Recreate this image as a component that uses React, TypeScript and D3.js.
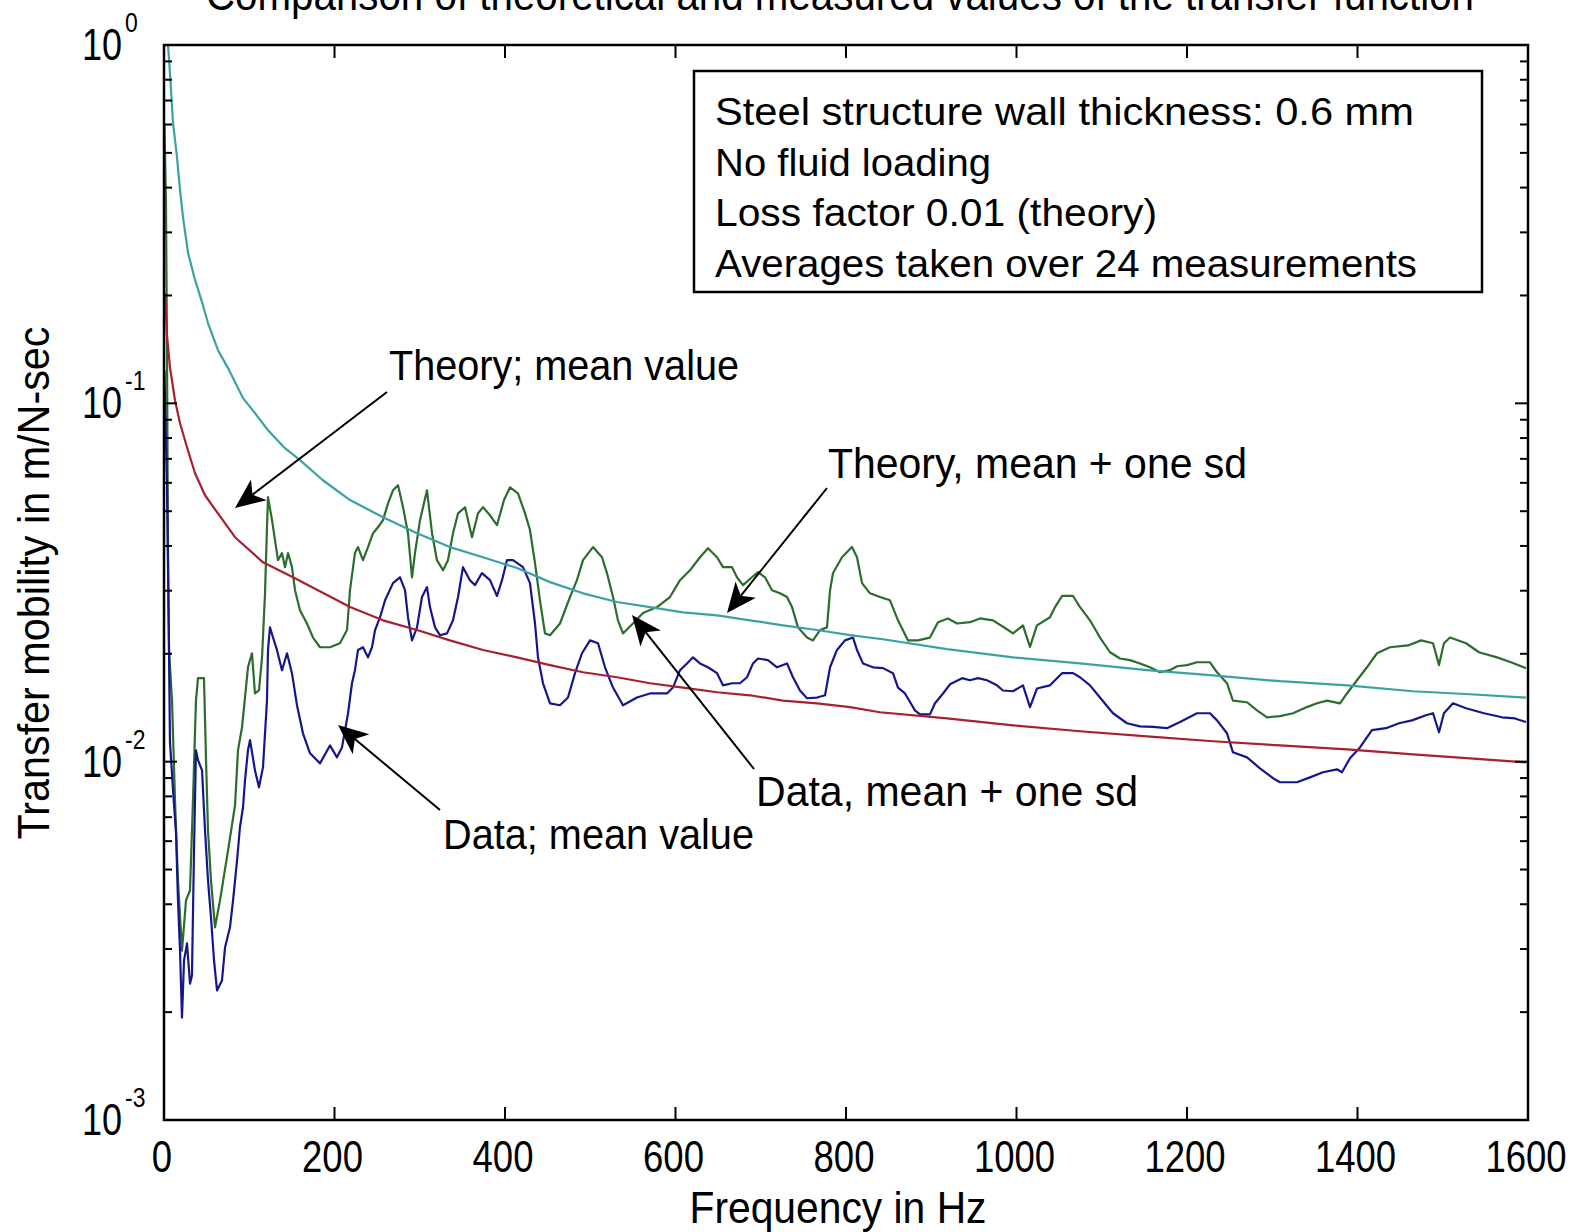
import React from 'react';
import * as d3 from 'd3';

type Pt = [number, number];

const W = 1577;
const H = 1232;
const PLOT = { left: 164, right: 1528, top: 45, bottom: 1120 };

const xDomain: [number, number] = [0, 1600];
const yDomain: [number, number] = [1e-3, 1];
const xTicks = [0, 200, 400, 600, 800, 1000, 1200, 1400, 1600];
const yDecades = [-3, -2, -1, 0];

const titleText = 'Comparison of theoretical and measured values of the transfer function';
const xLabelText = 'Frequency in Hz';
const yLabelText = 'Transfer mobility in m/N-sec';
const infoLines = [
  'Steel structure wall thickness: 0.6 mm',
  'No fluid loading',
  'Loss factor 0.01 (theory)',
  'Averages taken over 24 measurements',
];
const calloutTexts = ['Theory; mean value', 'Theory, mean + one sd', 'Data, mean + one sd', 'Data; mean value'];

// Data: mean + one standard deviation (green)
const dataMeanPlusSd: Pt[] = [
  [0.5,0.598],[2.3,0.369],[3.5,0.141],[4.7,0.0389],[5.9,0.0205],[9.4,0.0148],[12.9,0.0078],[16.4,0.00467],[21.1,0.00297],[25.8,0.0041],[30.5,0.00437],[34,0.0078],[37.5,0.0148],[39.9,0.0171],[46.9,0.0171],[49.3,0.0101],[51.6,0.00643],[55.1,0.00467],[59.8,0.00345],[65.7,0.0041],[75.1,0.00565],[83.3,0.00755],[86.8,0.01076],[91.5,0.01247],[95,0.0151],[98.5,0.01834],[103.2,0.02007],[106.7,0.0155],[111.4,0.0158],[115,0.01955],[118.5,0.0295],[120.8,0.0451],[122,0.0547],[126.7,0.0472],[130.2,0.0415],[133.7,0.0365],[138.4,0.0382],[141.9,0.0349],[145.5,0.0382],[150.1,0.0349],[153.7,0.0301],[159.5,0.02645],[167.7,0.0243],[174.8,0.0222],[183,0.02086],[194.7,0.02086],[206.4,0.0214],[214.7,0.0233],[218.2,0.0301],[224,0.0382],[227.6,0.0397],[233.4,0.0365],[239.3,0.0397],[245.2,0.0434],[251,0.0451],[256.9,0.0472],[262.8,0.0526],[268.6,0.0572],[274.5,0.0591],[280.4,0.0513],[286.2,0.0434],[290.9,0.0327],[294.4,0.0382],[300.3,0.0472],[308.5,0.0572],[314.4,0.0434],[320.2,0.0365],[327.3,0.0342],[333.1,0.0365],[339,0.0434],[344.9,0.0493],[353.1,0.0513],[361.3,0.0423],[368.3,0.0493],[374.2,0.0513],[382.4,0.0487],[390.6,0.0457],[398.8,0.0537],[405.9,0.0583],[415.2,0.0561],[423.5,0.0493],[429.3,0.0443],[435.2,0.0358],[441,0.0282],[446.9,0.0228],[452.8,0.02254],[464.5,0.0243],[476.2,0.0288],[484.4,0.0321],[491.5,0.0365],[503.2,0.0397],[513.8,0.0372],[519.6,0.0336],[526.7,0.0288],[532.5,0.0248],[538.4,0.0228],[550.1,0.0243],[561.9,0.026],[578.3,0.027],[593.5,0.0288],[605.3,0.0321],[617,0.0342],[628.7,0.0372],[638.1,0.0394],[648.7,0.0372],[655.7,0.0349],[666.3,0.0349],[672.1,0.0327],[679.2,0.0311],[689.7,0.0327],[696.8,0.0338],[705,0.0327],[713.2,0.0301],[722.6,0.0295],[730.8,0.0288],[736.7,0.027],[743.7,0.0237],[754.3,0.0222],[761.3,0.0218],[769.5,0.0233],[777.7,0.0237],[781.3,0.0301],[784.8,0.0336],[795.3,0.0372],[807,0.0397],[812.9,0.0372],[818.8,0.0315],[828.1,0.0295],[839.9,0.0288],[851.6,0.0282],[861,0.0248],[872.7,0.0218],[884.4,0.0218],[898.5,0.0222],[907.9,0.0245],[919.6,0.0251],[930.2,0.0243],[945.4,0.0245],[957.2,0.0251],[972.4,0.0248],[986.5,0.0236],[995.9,0.0228],[1007.6,0.024],[1015.8,0.0209],[1024,0.024],[1039.3,0.0253],[1045.2,0.027],[1053.4,0.029],[1066.3,0.029],[1074.5,0.027],[1086.2,0.0248],[1097.9,0.0222],[1109.7,0.0202],[1121.4,0.0194],[1133.1,0.0192],[1144.9,0.0188],[1156.6,0.01834],[1168.3,0.01776],[1180,0.018],[1188.3,0.01846],[1200,0.0186],[1211.7,0.01894],[1227,0.01894],[1235.2,0.01776],[1246.9,0.01655],[1253.9,0.0148],[1270.4,0.01465],[1282.1,0.0139],[1293.8,0.0133],[1309.1,0.0134],[1324.3,0.01365],[1340.7,0.0142],[1352.5,0.01455],[1364.2,0.0148],[1379.4,0.01455],[1387.7,0.0155],[1399.4,0.01687],[1411.1,0.01834],[1422.9,0.02007],[1438.1,0.02086],[1459.2,0.0211],[1474.5,0.0218],[1488.6,0.0214],[1495.6,0.0186],[1501.4,0.0214],[1508.5,0.0222],[1527.3,0.0214],[1542.5,0.0202],[1563.6,0.01955],[1580,0.01894],[1597.6,0.01824],
];

// Data: mean value (blue)
const dataMean: Pt[] = [
  [0.5,0.1238],[1.8,0.0897],[3.5,0.0598],[5.9,0.02007],[7,0.01132],[10.6,0.00832],[14.1,0.00631],[16.4,0.0041],[18.8,0.00297],[21.1,0.00193],[23.5,0.00279],[27,0.00311],[30.5,0.0024],[32.8,0.00253],[35.2,0.00565],[37.5,0.01076],[39.9,0.0101],[44.6,0.00946],[48.1,0.00643],[51.6,0.00467],[55.1,0.00368],[58.7,0.00279],[62.2,0.0023],[68,0.00245],[71.6,0.00303],[77.4,0.00345],[81,0.0041],[85.7,0.0053],[89.1,0.00656],[92.7,0.00746],[95,0.00887],[98.5,0.01076],[100.9,0.01148],[106.7,0.00946],[111.4,0.00848],[116.1,0.00964],[120.8,0.0148],[122,0.0205],[124.3,0.0237],[127.9,0.0222],[132.5,0.0205],[138.4,0.018],[144.3,0.02007],[150.1,0.01766],[156,0.01437],[163,0.012],[171.3,0.01055],[183,0.00989],[194.7,0.0111],[202.9,0.01028],[208.8,0.01096],[215.9,0.01365],[220.5,0.01655],[224,0.018],[227.6,0.0205],[233.4,0.02086],[239.3,0.01955],[244,0.02086],[247.6,0.0233],[253.4,0.0253],[259.3,0.0282],[268.6,0.0315],[276.8,0.0327],[282.7,0.0301],[286.2,0.0253],[290.9,0.0218],[296.8,0.0237],[302.6,0.0288],[308.5,0.0307],[312,0.027],[317.9,0.0237],[323.7,0.02254],[332,0.0228],[339,0.0248],[344.9,0.0288],[350.7,0.0349],[358.9,0.0321],[364.8,0.0311],[373,0.0336],[382.4,0.0321],[390.6,0.029],[396.5,0.0321],[402.3,0.0365],[409.4,0.0365],[421.1,0.0349],[429.3,0.0315],[435.2,0.0243],[438.7,0.01955],[444.6,0.01655],[452.8,0.01455],[464.5,0.01437],[473.9,0.0151],[482.1,0.01766],[490.3,0.02007],[499.7,0.0218],[509.1,0.0214],[517.3,0.01834],[526.7,0.0161],[538.4,0.01437],[554.8,0.0151],[570.1,0.0155],[590,0.0155],[597,0.0161],[605.3,0.018],[613.5,0.0188],[620.5,0.01955],[628.7,0.0188],[638.1,0.01834],[648.7,0.01766],[655.7,0.01633],[666.3,0.01655],[675.6,0.01655],[683.9,0.0172],[690.9,0.0188],[696.8,0.0194],[708.5,0.0192],[719.1,0.01834],[730.8,0.0188],[737.8,0.0172],[746,0.0158],[754.3,0.01503],[766,0.0151],[775.4,0.01532],[781.3,0.01834],[789.4,0.0205],[798.8,0.0218],[808.2,0.0222],[812.9,0.0205],[819.9,0.0188],[831.7,0.01834],[843.4,0.01824],[855.1,0.01766],[861,0.0161],[869.2,0.0155],[880.9,0.0139],[886.8,0.01355],[898.5,0.01355],[904.4,0.01455],[913.8,0.0155],[922,0.01644],[936.1,0.0171],[945.4,0.01687],[954.8,0.0171],[965.4,0.01687],[977.1,0.01633],[984.1,0.0158],[995.9,0.01572],[1007.6,0.01633],[1015.8,0.0142],[1024,0.016],[1039.3,0.01633],[1053.4,0.01766],[1066.3,0.01766],[1074.5,0.0172],[1086.2,0.01633],[1097.9,0.0151],[1113.2,0.01365],[1129.6,0.0128],[1144.9,0.01255],[1160.1,0.0125],[1176.5,0.0124],[1191.8,0.0129],[1211.7,0.01365],[1227,0.01365],[1235.2,0.01304],[1246.9,0.012],[1253.9,0.01062],[1270.4,0.01028],[1285.6,0.00958],[1300.9,0.00899],[1309.1,0.00876],[1329,0.00876],[1344.3,0.00904],[1359.5,0.00934],[1375.9,0.00952],[1381.8,0.00934],[1391.2,0.01022],[1402.9,0.01096],[1417,0.01224],[1433.4,0.0124],[1448.7,0.0128],[1463.9,0.01304],[1480.3,0.01347],[1488.6,0.01365],[1495.6,0.01208],[1501.4,0.01365],[1512,0.01455],[1527.3,0.0141],[1548.4,0.01365],[1569.5,0.0133],[1584.7,0.0132],[1597.6,0.0129],
];

// Theory: mean value (red)
const theoryMean: Pt[] = [
  [1.2,0.203],[3.5,0.155],[7,0.126],[12.9,0.102],[18.8,0.088],[27,0.0754],[36.4,0.0638],[48.1,0.0554],[62.2,0.0497],[83.3,0.0423],[116.1,0.036],[151.3,0.0327],[218.2,0.027],[256.9,0.0248],[296.8,0.0233],[335.3,0.0218],[374.2,0.0205],[414.1,0.01955],[452.8,0.0186],[491.5,0.01776],[531.4,0.0172],[570.1,0.01655],[608.8,0.0161],[648.7,0.01562],[687.4,0.01532],[726.1,0.0148],[766,0.01455],[804.7,0.0142],[839.9,0.01374],[918.5,0.0132],[995.9,0.01263],[1074.5,0.01216],[1153.1,0.01177],[1230.5,0.0114],[1309.1,0.0111],[1387.7,0.01082],[1465.1,0.01048],[1531.9,0.01022],[1597.6,0.00996],
];

// Theory: mean + one standard deviation (cyan)
const theoryMeanPlusSd: Pt[] = [
  [4.7,1.0],[7,0.835],[10.6,0.606],[15.2,0.487],[18.8,0.394],[22.3,0.331],[28.2,0.263],[36.4,0.221],[44.6,0.1916],[51.6,0.1675],[63.3,0.1407],[75.1,0.1254],[92.7,0.1034],[106.7,0.0939],[122,0.0841],[140.8,0.0754],[159.5,0.0694],[186.4,0.061],[218.2,0.0537],[256.9,0.0481],[296.8,0.0434],[335.3,0.0397],[374.2,0.0372],[414.1,0.0347],[452.8,0.0317],[491.5,0.0295],[531.4,0.0279],[570.1,0.027],[608.8,0.0261],[648.7,0.0256],[687.4,0.0248],[726.1,0.024],[766,0.0233],[804.7,0.02254],[843.4,0.02196],[918.5,0.0206],[995.9,0.01955],[1074.5,0.0188],[1153.1,0.018],[1230.5,0.0174],[1309.1,0.01677],[1387.7,0.01633],[1465.1,0.01572],[1531.9,0.01542],[1597.6,0.0151],
];

const FONT = '"Liberation Sans", Arial, Helvetica, sans-serif';

function Arrow({ tail, tip }: { tail: Pt; tip: Pt }) {
  const dx = tip[0] - tail[0];
  const dy = tip[1] - tail[1];
  const len = Math.hypot(dx, dy);
  const ux = dx / len, uy = dy / len;
  const px = -uy, py = ux;
  const headLen = 30, half = 13, notch = 22;
  const bx = tip[0] - ux * headLen, by = tip[1] - uy * headLen;
  const nx = tip[0] - ux * notch, ny = tip[1] - uy * notch;
  const pts = [
    [tip[0], tip[1]],
    [bx + px * half, by + py * half],
    [nx, ny],
    [bx - px * half, by - py * half],
  ].map((p) => p.join(',')).join(' ');
  return (
    <g>
      <line x1={tail[0]} y1={tail[1]} x2={nx} y2={ny} stroke="#000" strokeWidth={2} />
      <polygon points={pts} fill="#000" />
    </g>
  );
}

export default function App() {
  const x = d3.scaleLinear().domain(xDomain).range([PLOT.left, PLOT.right]);
  const y = d3.scaleLog().domain(yDomain).range([PLOT.bottom, PLOT.top]);
  const line = d3.line<Pt>().x((d) => x(d[0])).y((d) => y(d[1]));

  const minorTicks: number[] = [];
  for (let k = -3; k < 0; k++) {
    for (let m = 2; m <= 9; m++) minorTicks.push(m * Math.pow(10, k));
  }

  const series = [
    { data: dataMeanPlusSd, color: '#2c6c2c' },
    { data: dataMean, color: '#16168c' },
    { data: theoryMean, color: '#a6202e' },
    { data: theoryMeanPlusSd, color: '#3aa2a2' },
  ];

  const majorLen = 13;
  const minorLen = 8;

  const callouts = [
    { text: calloutTexts[0], x: 389, y: 380, w: 350, tail: [387, 392] as Pt, tip: [235, 508] as Pt },
    { text: calloutTexts[1], x: 828, y: 478, w: 419, tail: [827, 488] as Pt, tip: [727, 613] as Pt },
    { text: calloutTexts[2], x: 756, y: 806, w: 382, tail: [754, 769] as Pt, tip: [632, 615] as Pt },
    { text: calloutTexts[3], x: 443, y: 849, w: 311, tail: [440, 810] as Pt, tip: [338, 725] as Pt },
  ];
  const infoWidths = [699, 276, 442, 702];

  return (
    <svg
      width={W}
      height={H}
      viewBox={`0 0 ${W} ${H}`}
      style={{ position: 'absolute', left: 0, top: 0, background: '#fff' }}
      fontFamily={FONT}
    >
      <rect x={0} y={0} width={W} height={H} fill="#fff" />
      <defs>
        <clipPath id="plotClip">
          <rect x={PLOT.left} y={PLOT.top} width={PLOT.right - PLOT.left} height={PLOT.bottom - PLOT.top} />
        </clipPath>
      </defs>

      {/* title (cut off at the top edge, as in the reference) */}
      <text x={840} y={10} fontSize={44} textAnchor="middle" textLength={1268} lengthAdjust="spacingAndGlyphs" fill="#000">
        {titleText}
      </text>

      {/* series */}
      <g clipPath="url(#plotClip)">
        {series.map((s, i) => (
          <path key={i} d={line(s.data) || ''} fill="none" stroke={s.color} strokeWidth={2.2} strokeLinejoin="round" />
        ))}
      </g>

      {/* frame */}
      <rect
        x={PLOT.left}
        y={PLOT.top}
        width={PLOT.right - PLOT.left}
        height={PLOT.bottom - PLOT.top}
        fill="none"
        stroke="#000"
        strokeWidth={2.5}
      />

      {/* x ticks */}
      {xTicks.map((t) => (
        <g key={'xt' + t}>
          <line x1={x(t)} x2={x(t)} y1={PLOT.bottom} y2={PLOT.bottom - majorLen} stroke="#000" strokeWidth={2} />
          <line x1={x(t)} x2={x(t)} y1={PLOT.top} y2={PLOT.top + majorLen} stroke="#000" strokeWidth={2} />
          <text
            transform={`translate(${x(t) - 2},1172) scale(0.83,1)`}
            fontSize={44}
            textAnchor="middle"
          >
            {String(t)}
          </text>
        </g>
      ))}

      {/* y ticks */}
      {yDecades.map((k) => {
        const yy = y(Math.pow(10, k));
        const sup = String(k);
        return (
          <g key={'yt' + k}>
            <line x1={PLOT.left} x2={PLOT.left + majorLen} y1={yy} y2={yy} stroke="#000" strokeWidth={2} />
            <line x1={PLOT.right} x2={PLOT.right - majorLen} y1={yy} y2={yy} stroke="#000" strokeWidth={2} />
            <text transform={`translate(82,${yy + 15}) scale(0.82,1)`} fontSize={44}>
              10
            </text>
            <text transform={`translate(125,${yy - 13}) scale(0.85,1)`} fontSize={27}>
              {sup}
            </text>
          </g>
        );
      })}
      {minorTicks.map((v, i) => (
        <g key={'mt' + i}>
          <line x1={PLOT.left} x2={PLOT.left + minorLen} y1={y(v)} y2={y(v)} stroke="#000" strokeWidth={2} />
          <line x1={PLOT.right} x2={PLOT.right - minorLen} y1={y(v)} y2={y(v)} stroke="#000" strokeWidth={2} />
        </g>
      ))}

      {/* axis labels */}
      <text x={838} y={1223} fontSize={44} textAnchor="middle" textLength={297} lengthAdjust="spacingAndGlyphs">
        {xLabelText}
      </text>
      <text
        transform="translate(49,583) rotate(-90)"
        fontSize={44}
        textAnchor="middle"
        textLength={513}
        lengthAdjust="spacingAndGlyphs"
      >
        {yLabelText}
      </text>

      {/* info box */}
      <rect x={694} y={71} width={788} height={221} fill="#fff" stroke="#000" strokeWidth={2.5} />
      {infoLines.map((t, i) => (
        <text
          key={'info' + i}
          x={715}
          y={125 + i * 50.7}
          fontSize={38}
          textLength={infoWidths[i]}
          lengthAdjust="spacingAndGlyphs"
        >
          {t}
        </text>
      ))}

      {/* callouts */}
      {callouts.map((c, i) => (
        <g key={'co' + i}>
          <text x={c.x} y={c.y} fontSize={42} textLength={c.w} lengthAdjust="spacingAndGlyphs">
            {c.text}
          </text>
          <Arrow tail={c.tail} tip={c.tip} />
        </g>
      ))}
    </svg>
  );
}
